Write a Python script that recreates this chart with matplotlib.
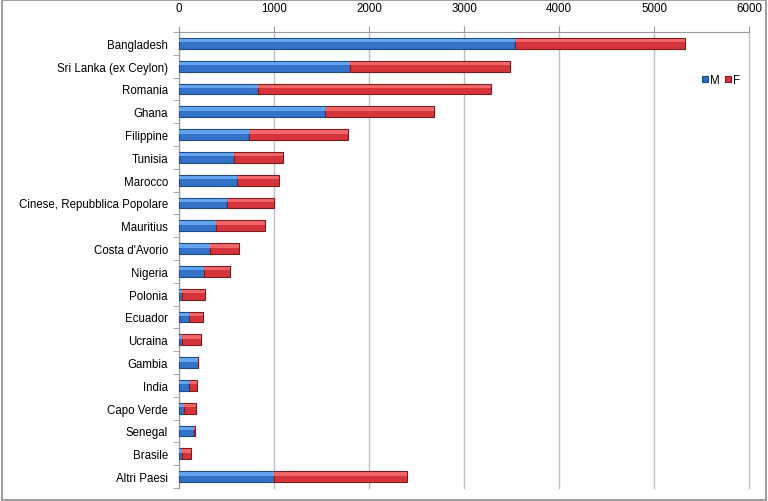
import matplotlib.pyplot as plt
import numpy as np

plt.rcParams['font.family'] = ['Liberation Sans', 'DejaVu Sans']

# === DATA ===
countries = ["Bangladesh", "Sri Lanka (ex Ceylon)", "Romania", "Ghana", "Filippine",
             "Tunisia", "Marocco", "Cinese, Repubblica Popolare", "Mauritius",
             "Costa d'Avorio", "Nigeria", "Polonia", "Ecuador", "Ucraina", "Gambia",
             "India", "Capo Verde", "Senegal", "Brasile", "Altri Paesi"]
males = [3540, 1800, 830, 1540, 740, 580, 610, 500, 390, 330,
         260, 35, 100, 35, 200, 105, 55, 160, 28, 1000]
females = [1790, 1680, 2450, 1140, 1040, 510, 440, 500, 515, 300,
           280, 240, 150, 200, 5, 85, 125, 10, 100, 1400]
xticks = [0, 1000, 2000, 3000, 4000, 5000, 6000]

# === PLOT ===
fig = plt.figure(figsize=(7.68, 5.02), dpi=100)
ax = fig.add_axes([179 / 768, 1 - 489 / 502, 570 / 768, 456 / 502])

y = np.arange(len(countries))
h = 0.48
ax.barh(y, males, height=h, color='#3372c8', edgecolor='#1f4a85', linewidth=0.8, label='M', zorder=3)
ax.barh(y, females, left=males, height=h, color='#d5353a', edgecolor='#7e1a1e', linewidth=0.8, label='F', zorder=3)
# lighter strip on the top of each bar (bevel look)
ax.barh(y - h * 0.25, males, height=h * 0.3, color='#62a4ee', linewidth=0, zorder=4)
ax.barh(y - h * 0.25, females, left=males, height=h * 0.3, color='#ee6668', linewidth=0, zorder=4)

ax.set_yticks(y)
ax.set_yticklabels(countries, fontsize=8.3)
ax.set_yticks(np.arange(len(countries) + 1) - 0.5, minor=True)
ax.tick_params(axis='y', which='major', length=0, pad=8)
ax.tick_params(axis='y', which='minor', length=4, color='#999999')
ax.set_ylim(len(countries) - 0.5, -0.5)
ax.set_xlim(0, 6000)
ax.set_xticks(xticks)
ax.xaxis.tick_top()
ax.tick_params(axis='x', labelsize=8.3, length=4, color='#999999', pad=9)
ax.grid(axis='x', color='#c0c0c0', linewidth=1, zorder=0, clip_on=False)

for s in ['right', 'bottom']:
    ax.spines[s].set_visible(False)
ax.spines['top'].set_color('#999999')
ax.spines['left'].set_color('#999999')

handles, labels = ax.get_legend_handles_labels()
ax.legend(handles[:2], labels[:2], loc='upper left', bbox_to_anchor=(0.9, 0.93), ncol=2,
          frameon=False, fontsize=8.3, handlelength=0.45, handleheight=0.45,
          handletextpad=0.2, columnspacing=0.5)

# grey frame around the chart
fig.patches.append(plt.Rectangle((0.002, 0.002), 0.996, 0.996, transform=fig.transFigure,
                                 fill=False, edgecolor='#8c8c8c', linewidth=1.2))

plt.savefig('out.png', dpi=100)
